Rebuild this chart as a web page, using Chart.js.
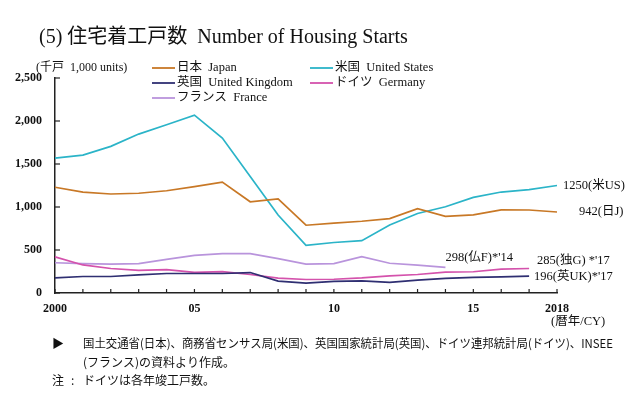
<!DOCTYPE html>
<html>
<head>
<meta charset="utf-8">
<script src="https://cdn.jsdelivr.net/npm/chart.js@4.4.1/dist/chart.umd.min.js"></script>
<style>
html,body{margin:0;padding:0;background:#fff;}
#wrap{width:640px;height:393px;position:relative;}
</style>
</head>
<body>
<div id="wrap"><canvas id="c" width="640" height="393"></canvas></div>
<script>
const years = ['2000','2001','2002','2003','2004','2005','2006','2007','2008','2009','2010','2011','2012','2013','2014','2015','2016','2017','2018'];
const xTickLabels = ['2000','','','','','05','','','','','10','','','','','15','','','2018'];
const yTicks = [0,500,1000,1500,2000,2500];
const japan = [1230,1174,1151,1160,1189,1236,1290,1061,1094,788,813,834,865,980,892,909,967,965,942];
const us = [1569,1603,1705,1848,1956,2068,1801,1355,906,554,587,609,790,925,1003,1112,1174,1203,1250];
const uk = [177,192,192,211,227,227,227,238,138,115,135,142,123,150,169,181,188,196,null];
const germany = [420,326,285,262,272,240,249,215,172,157,160,175,200,215,243,247,278,285,null];
const france = [352,342,335,342,392,438,458,458,400,335,342,423,346,323,298,null,null,null,null];
const seriesNames = ['日本  Japan','米国  United States','英国  United Kingdom','ドイツ  Germany','フランス  France'];
const seriesColors = ['#c87826','#2bb4c8','#2f2f72','#d452ac','#b994dc'];
const endLabels = [
  {ds:1, idx:18, text:'1250(米US)', dx:6, dy:0},
  {ds:0, idx:18, text:'942(日J)', dx:22, dy:0},
  {ds:4, idx:14, text:"298(仏F)*'14", dx:0, dy:-10},
  {ds:3, idx:17, text:"285(独G) *'17", dx:8, dy:-8},
  {ds:2, idx:17, text:"196(英UK)*'17", dx:5, dy:1}
];
const SERIF = '"Liberation Serif","DejaVu Serif","Noto Sans CJK JP",serif';
const JP = '"Noto Sans CJK JP","Liberation Serif",sans-serif';

const decor = {
  id:'decor',
  afterDraw(chart){
    const ctx = chart.ctx;
    const xs = chart.scales.x, ys = chart.scales.y;
    ctx.save();
    ctx.strokeStyle = '#222'; ctx.lineWidth = 1.2;
    yTicks.forEach(v=>{
      const y = ys.getPixelForValue(v);
      ctx.beginPath(); ctx.moveTo(xs.left, y); ctx.lineTo(xs.left+5, y); ctx.stroke();
    });
    years.forEach((yr,i)=>{
      const x = xs.getPixelForValue(i);
      ctx.beginPath(); ctx.moveTo(x, ys.bottom); ctx.lineTo(x, ys.bottom-4); ctx.stroke();
    });
    ctx.fillStyle = '#111';
    ctx.textBaseline = 'middle';
    ctx.textAlign = 'left';
    ctx.font = '20px ' + SERIF;
    ctx.fillText('(5) 住宅着工戸数  Number of Housing Starts', 39, 38);
    ctx.font = '12px ' + SERIF;
    ctx.fillText('(千戸  1,000 units)', 36, 68);
    const pos = [[152,68],[310,68],[152,83],[310,83],[152,98]];
    chart.data.datasets.forEach((ds,i)=>{
      const [lx,ly] = pos[i];
      ctx.strokeStyle = ds.borderColor; ctx.lineWidth = 1.8;
      ctx.beginPath(); ctx.moveTo(lx, ly); ctx.lineTo(lx+23, ly); ctx.stroke();
      ctx.fillStyle = '#111';
      ctx.font = '12.5px ' + SERIF;
      ctx.fillText(ds.label, lx+25, ly);
    });
    ctx.font = '12.5px ' + SERIF;
    endLabels.forEach(l=>{
      const ds = chart.data.datasets[l.ds];
      const x = xs.getPixelForValue(l.idx) + l.dx;
      const y = ys.getPixelForValue(ds.data[l.idx]) + l.dy;
      ctx.fillText(l.text, x, y);
    });
    ctx.font = '12.5px ' + SERIF;
    ctx.fillText('(暦年/CY)', 551, 322);
    ctx.font = '12px ' + JP;
    ctx.fillText('▶', 52, 343);
    ctx.fillText('国土交通省(日本)、商務省センサス局(米国)、英国国家統計局(英国)、ドイツ連邦統計局(ドイツ)、INSEE', 83, 343, 530);
    ctx.fillText('(フランス)の資料より作成。', 83, 362);
    ctx.fillText('注', 52, 380);
    ctx.fillText(':', 71, 380);
    ctx.fillText('ドイツは各年竣工戸数。', 83, 380);
    ctx.restore();
  }
};

const mk = (i, data) => ({
  label: seriesNames[i], data, borderColor: seriesColors[i], backgroundColor: seriesColors[i],
  borderWidth: 1.7, pointRadius: 0, tension: 0, fill: false, spanGaps: false
});

new Chart(document.getElementById('c'), {
  type: 'line',
  data: { labels: years, datasets: [mk(0,japan), mk(1,us), mk(2,uk), mk(3,germany), mk(4,france)] },
  options: {
    responsive: false, animation: false,
    layout: { padding: { left: 0, right: 83, top: 78, bottom: 0 } },
    plugins: { legend: { display: false }, title: { display: false }, tooltip: { enabled: false } },
    scales: {
      x: {
        type: 'category', offset: false,
        grid: { display: false },
        border: { display: true, color: '#222', width: 1.5 },
        ticks: { autoSkip: false, maxRotation: 0, minRotation: 0, padding: 1,
          color: '#111', font: { family: SERIF, size: 12, weight: 'bold' },
          callback: (v, i) => xTickLabels[i] },
        afterFit: s => { s.height = 100; }
      },
      y: {
        min: 0, max: 2500,
        grid: { display: false },
        border: { display: true, color: '#222', width: 1.5 },
        afterBuildTicks: s => { s.ticks = yTicks.map(v => ({ value: v })); },
        ticks: { padding: 5, color: '#111', font: { family: SERIF, size: 12, weight: 'bold' },
          callback: v => v.toLocaleString('en-US') },
        afterFit: s => { s.width = 55; }
      }
    }
  },
  plugins: [decor]
});
</script>
</body>
</html>
